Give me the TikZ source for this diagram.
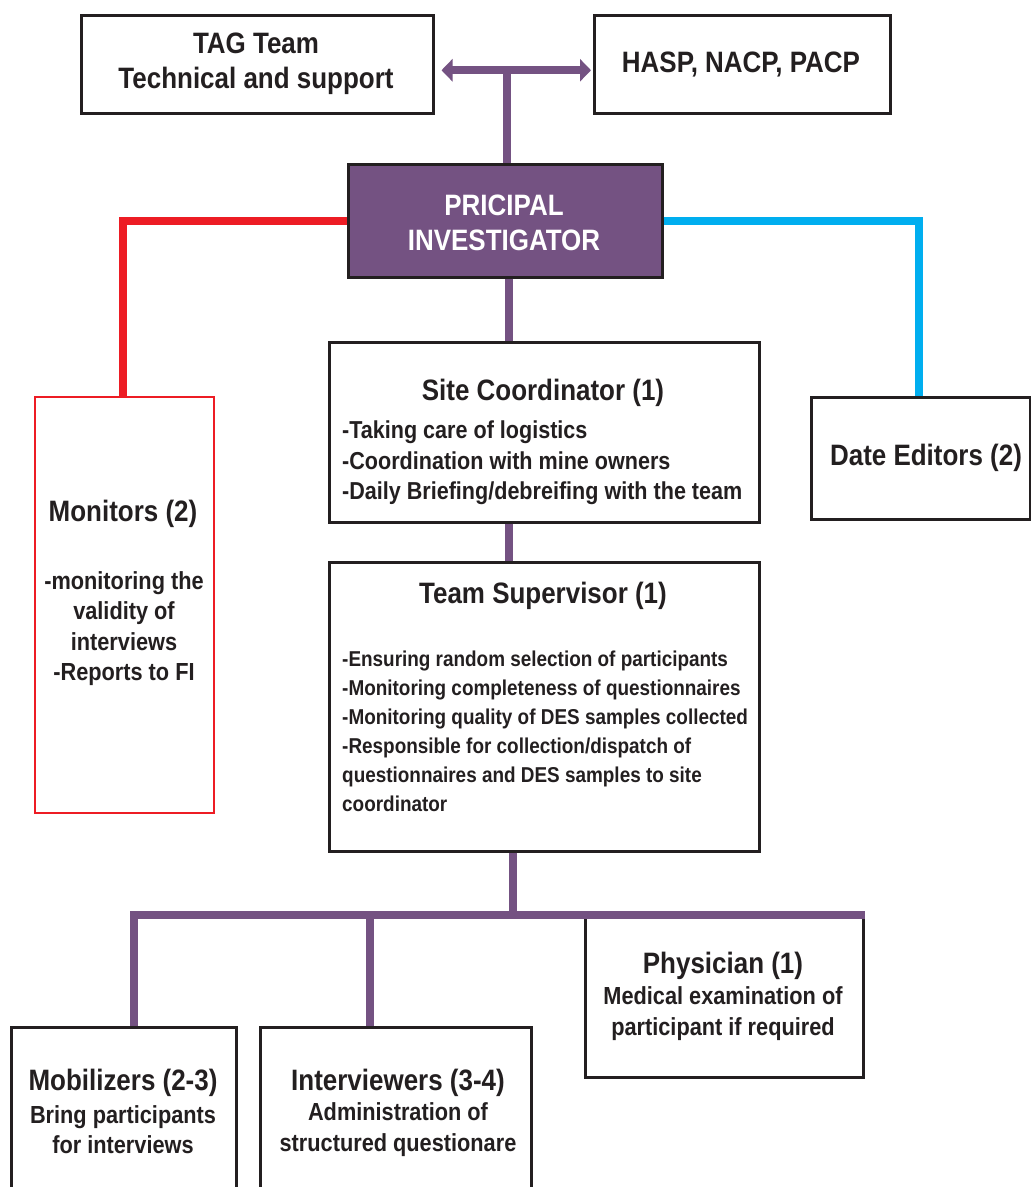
\documentclass[tikz,border=0pt]{standalone}
\usepackage{fontspec}
\setmainfont{Liberation Sans}[FakeStretch=0.88]
\usetikzlibrary{arrows.meta}
\definecolor{pur}{RGB}{116,82,130}
\definecolor{edge}{RGB}{35,31,32}
\definecolor{redc}{RGB}{237,28,36}
\definecolor{bluec}{RGB}{0,174,239}
\begin{document}
\begin{tikzpicture}[x=1pt,y=-1pt,
  box/.style={draw=edge,line width=2.5pt,fill=white,inner sep=0pt,anchor=north west},
  head/.style={font=\fontsize{29.5}{35}\selectfont\bfseries,align=center,inner sep=0pt,text=edge,yshift=-2.5pt},
  bodyc/.style={font=\fontsize{24.7}{30.5}\selectfont\bfseries,align=center,inner sep=0pt,text=edge,yshift=-2.5pt},
  bodyl/.style={font=\fontsize{24.5}{30.5}\selectfont\bfseries,align=left,inner sep=0pt,anchor=west,text=edge,yshift=-2.5pt},
  bodys/.style={font=\fontsize{21.5}{29}\selectfont\bfseries,align=left,inner sep=0pt,anchor=west,text=edge,yshift=-2pt},
  pc/.style={draw=pur,line width=8pt}]
\clip (0,0) rectangle (1031,1187);
\fill[white] (0,0) rectangle (1031,1187);
% boxes
\node[box,minimum width=352pt,minimum height=98pt] (tag) at (80,14) {};
\node[box,minimum width=296pt,minimum height=98pt] (hasp) at (593,14) {};
\node[box,fill=pur,minimum width=314pt,minimum height=113pt] (pi) at (347,163) {};
\node[box,draw=redc,line width=2pt,minimum width=179pt,minimum height=416pt] (mon) at (34,396) {};
\node[box,minimum width=430pt,minimum height=180pt] (sc) at (328,341) {};
\node[box,minimum width=219pt,minimum height=122pt] (de) at (810,396) {};
\node[box,minimum width=430pt,minimum height=289pt] (ts) at (328,561) {};
\node[box,minimum width=278pt,minimum height=163pt] (phy) at (584,913) {};
\node[box,minimum width=225pt,minimum height=190pt] (mob) at (10,1026) {};
\node[box,minimum width=271pt,minimum height=190pt] (int) at (259,1026) {};
% connectors
\coordinate (aj) at (507,69);
\draw[pc,{Triangle[length=11pt,width=22pt]}-{Triangle[length=11pt,width=22pt]}] ([xshift=7pt,yshift=-6pt]tag.east) -- ([xshift=-2pt,yshift=-6pt]hasp.west);
\draw[pc] (pi.north -| aj) -- (aj);
\draw[draw=redc,line width=8pt] (pi.west) -| ([xshift=-1.5pt]mon.north);
\draw[draw=bluec,line width=8pt] (pi.east) -| ([xshift=-1.5pt]de.north);
\draw[pc] ([xshift=4pt]pi.south) -- ([xshift=4pt]pi.south |- sc.north);
\draw[pc] ([xshift=-35pt]sc.south) -- ([xshift=-35pt]ts.north);
\coordinate (j) at (513,915);
\draw[pc] (j |- ts.south) -- (j);
\draw[pc] ([xshift=10.5pt]mob.north) |- ([yshift=-2pt]phy.north east);
\draw[pc] ([xshift=-25.5pt]int.north) -- ([xshift=-25.5pt,yshift=-2pt]int.north |- phy.north);
% texts
\node[head] (tagt) at (256,61.5) {TAG Team\\Technical and support};
\node[head] (haspt) at (741,62) {HASP, NACP, PACP};
\node[head,text=white] (pit) at (504,220.5) {PRICIPAL\\INVESTIGATOR};
\node[head] (sch) at (543,390) {Site Coordinator (1)};
\node[bodyl] (scb) at (342,460.5) {-Taking care of logistics\\-Coordination with mine owners\\-Daily Briefing/debreifing with the team};
\node[head] (det) at (926,455) {Date Editors (2)};
\node[head] (monh) at (123,511) {Monitors (2)};
\node[bodyc] (monb) at (124,626) {-monitoring the\\validity of\\interviews\\-Reports to FI};
\node[head] (tsh) at (543,593) {Team Supervisor (1)};
\node[bodys] (tsb) at (342,729.5) {-Ensuring random selection of participants\\-Monitoring completeness of questionnaires\\-Monitoring quality of DES samples collected\\-Responsible for collection/dispatch of\\questionnaires and DES samples to site\\coordinator};
\node[head] (phyh) at (723,963) {Physician (1)};
\node[bodyc] (phyb) at (723,1011) {Medical examination of\\participant if required};
\node[head] (mobh) at (123,1080) {Mobilizers (2-3)};
\node[bodyc] (mobb) at (123,1127) {Bring participants\\for interviews};
\node[head] (inth) at (398,1080) {Interviewers (3-4)};
\node[bodyc] (intb) at (398,1127) {Administration of\\structured questionare};
\end{tikzpicture}
\end{document}
